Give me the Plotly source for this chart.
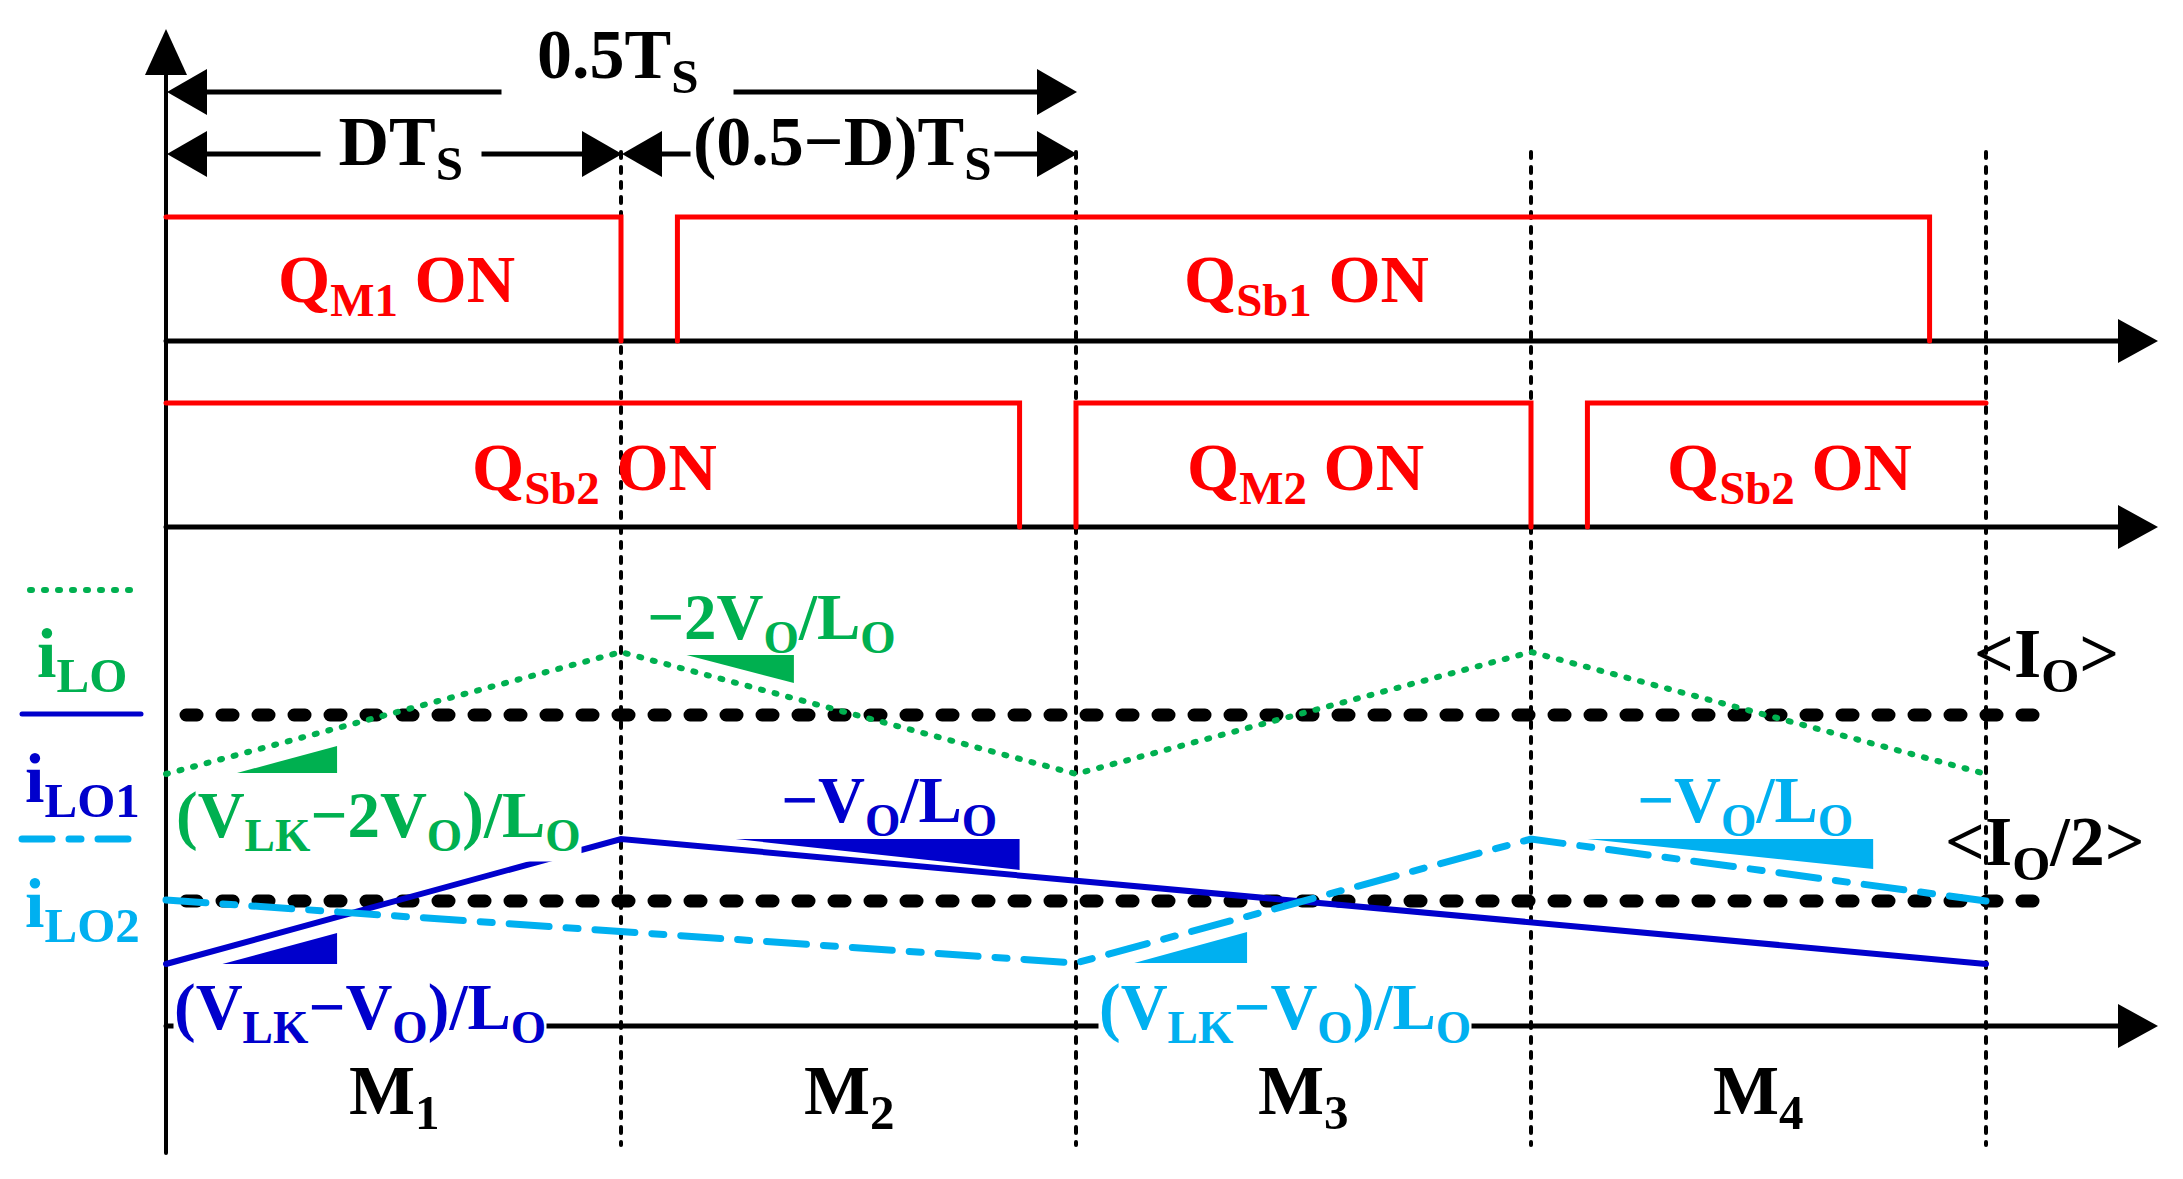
import plotly.graph_objects as go

W, H = 2183, 1179
X0_PX, TS_PX = 166, 1820   # pixel of t = 0 and pixel width of one Ts

RED, GREEN, BLUE, CYAN, BLACK = "#FF0000", "#00B050", "#0000CC", "#00B0F0", "#000000"
FONT = "Liberation Serif, Times New Roman, serif"

# time marks in units of Ts (D = 0.25)
T_EDGES = [0.25, 0.5, 0.75, 1.0]
T_HALF = 0.5
T_D = 0.25

# gate signals (1 = ON)
QM1_T, QM1_V = [0.0, 0.25, 0.25], [1, 1, 0]
QSB1_T, QSB1_V = [0.281, 0.281, 0.969, 0.969], [0, 1, 1, 0]
QSB2A_T, QSB2A_V = [0.0, 0.469, 0.469], [1, 1, 0]
QM2_T, QM2_V = [0.5, 0.5, 0.75, 0.75], [0, 1, 1, 0]
QSB2B_T, QSB2B_V = [0.781, 0.781, 1.0], [0, 1, 1]

# inductor currents (height above the current axis)
ILO_T, ILO = [0.0, 0.25, 0.5, 0.75, 1.0], [252, 374, 252, 374, 252]
ILO1_T, ILO1 = [0.0, 0.25, 1.0], [62, 187, 62]
ILO2_T, ILO2 = [0.0, 0.5, 0.75, 1.0], [126, 63, 187, 125]
IO_AVG, IO_HALF = 311, 125
AVG_T = [0.011, 1.032]

# slope markers: t0, t1, i(t0), i(t1)
SLOPE_GREEN = [(0.039, 0.094, 253, 280), (0.286, 0.345, 371, 343)]
SLOPE_BLUE = [(0.031, 0.094, 62, 93), (0.313, 0.469, 187, 156)]
SLOPE_CYAN = [(0.532, 0.594, 63, 94), (0.781, 0.938, 187, 157)]


def tx(px):
  return (px - X0_PX) / TS_PX


def ty(py):
  return H - py


GATE1_LOW, GATE2_LOW, GATE_H = ty(341), ty(527), 124
I_ZERO = ty(1026)

fig = go.Figure()


def line(xs, ys, color, width, dash="solid"):
  fig.add_trace(go.Scatter(x=xs, y=ys, mode="lines", hoverinfo="skip",
                           line=dict(color=color, width=width, dash=dash)))


def tri(xs, ys, color):
  fig.add_trace(go.Scatter(x=xs + [xs[0]], y=ys + [ys[0]], mode="lines", fill="toself",
                           fillcolor=color, line=dict(width=0), hoverinfo="skip"))


def head(x, y, direction, length=40, half=22):
  l = length / TS_PX
  h = half / TS_PX
  if direction == "right":
    tri([x, x - l, x - l], [y, y + half, y - half], BLACK)
  elif direction == "left":
    tri([x, x + l, x + l], [y, y + half, y - half], BLACK)
  else:
    tri([x, x - h, x + h], [y, y - length, y - length], BLACK)


# vertical dotted guides
for t in T_EDGES:
  line([t, t], [ty(152), ty(1145)], BLACK, 4, "6px,9px")

# main vertical axis
line([0, 0], [ty(1153), ty(70)], BLACK, 4)
head(0, ty(29), "up", 46, 21)

# horizontal axes
for y0 in (GATE1_LOW, GATE2_LOW, I_ZERO):
  line([0, tx(2120)], [y0, y0], BLACK, 5)
  head(tx(2158), y0, "right")

# dimension arrows
for (a, b, py) in [(0, T_HALF, 92), (0, T_D, 154), (T_D, T_HALF, 154)]:
  line([a + 0.01, b - 0.01], [ty(py), ty(py)], BLACK, 5)
  head(a + 1 / TS_PX, ty(py), "left", 40, 23)
  head(b + 1 / TS_PX, ty(py), "right", 40, 23)

# gate waveforms
for ts, vs, base in [(QM1_T, QM1_V, GATE1_LOW), (QSB1_T, QSB1_V, GATE1_LOW),
                     (QSB2A_T, QSB2A_V, GATE2_LOW), (QM2_T, QM2_V, GATE2_LOW),
                     (QSB2B_T, QSB2B_V, GATE2_LOW)]:
  line(ts, [base + v * GATE_H for v in vs], RED, 5)

# averages
line(AVG_T, [I_ZERO + IO_AVG] * 2, BLACK, 13, "11px,25px")
line(AVG_T, [I_ZERO + IO_HALF] * 2, BLACK, 13, "11px,25px")

# currents
line(ILO_T, [I_ZERO + v for v in ILO], GREEN, 6, "2px,12px")
line(ILO1_T, [I_ZERO + v for v in ILO1], BLUE, 6)
line(ILO2_T, [I_ZERO + v for v in ILO2], CYAN, 7, "40px,17px,12px,17px")

for color, slopes in [(GREEN, SLOPE_GREEN), (BLUE, SLOPE_BLUE), (CYAN, SLOPE_CYAN)]:
  for t0, t1, i0, i1 in slopes:
    tri([t0, t1, t1], [I_ZERO + i0, I_ZERO + i1, I_ZERO + i0], color)

# legend swatches
line([tx(30), tx(141)], [ty(590)] * 2, GREEN, 6, "2px,12px")
line([tx(22), tx(141)], [ty(714)] * 2, BLUE, 5)
line([tx(22), tx(141)], [ty(839)] * 2, CYAN, 7, "30px,17px,12px,17px")


def label(text, px, py, size, color=BLACK, bg=None, pad=0):
  fig.add_annotation(x=tx(px), y=ty(py), text=text, showarrow=False,
                     xanchor="center", yanchor="middle",
                     bgcolor=bg if bg else "rgba(0,0,0,0)", borderpad=pad,
                     font=dict(family=FONT, size=size, color=color, weight="bold"))


label("&nbsp;&nbsp;0.5T<sub>S</sub>&nbsp;&nbsp;", 617, 60, 70, bg="white")
label("&nbsp;DT<sub>S</sub>&nbsp;", 401, 147, 70, bg="white")
label("(0.5−D)T<sub>S</sub>", 842, 147, 70, bg="white", pad=2)

label("Q<sub>M1</sub> ON", 396, 284, 67, RED)
label("Q<sub>Sb1</sub> ON", 1306, 284, 67, RED)
label("Q<sub>Sb2</sub> ON", 594, 472, 67, RED)
label("Q<sub>M2</sub> ON", 1305, 472, 67, RED)
label("Q<sub>Sb2</sub> ON", 1789, 472, 67, RED)

label("−2V<sub>O</sub>/L<sub>O</sub>", 771, 622, 65, GREEN)
label("(V<sub>LK</sub>−2V<sub>O</sub>)/L<sub>O</sub>", 378, 820, 65, GREEN, bg="white")
label("−V<sub>O</sub>/L<sub>O</sub>", 889, 805, 65, BLUE)
label("−V<sub>O</sub>/L<sub>O</sub>", 1745, 805, 65, CYAN)
label("(V<sub>LK</sub>−V<sub>O</sub>)/L<sub>O</sub>", 360, 1012, 65, BLUE, bg="white")
label("(V<sub>LK</sub>−V<sub>O</sub>)/L<sub>O</sub>", 1285, 1012, 65, CYAN, bg="white")

label("&lt;I<sub>O</sub>&gt;", 2046, 659, 70)
label("&lt;I<sub>O</sub>/2&gt;", 2045, 847, 70)

for i, px in enumerate([394, 849, 1303, 1758]):
  label(f"M<sub>{i + 1}</sub>", px, 1096, 70)

label("i<sub>LO</sub>", 82, 659, 70, GREEN)
label("i<sub>LO1</sub>", 82, 784, 70, BLUE)
label("i<sub>LO2</sub>", 82, 909, 70, CYAN)

fig.update_layout(
  width=W, height=H, margin=dict(l=0, r=0, t=0, b=0),
  paper_bgcolor="white", plot_bgcolor="white", showlegend=False,
  xaxis=dict(range=[tx(0), tx(W)], visible=False, fixedrange=True),
  yaxis=dict(range=[0, H], visible=False, fixedrange=True),
)

# no page margin; round line caps so the dotted lines come out as dots
post = """
document.body.style.margin = '0';
var gd = document.getElementById('{plot_id}');
gd.querySelectorAll('.js-line').forEach(function(p){ p.style.strokeLinecap = 'round'; });
"""
fig.write_html("out.html", post_script=post, config={"displayModeBar": False})
